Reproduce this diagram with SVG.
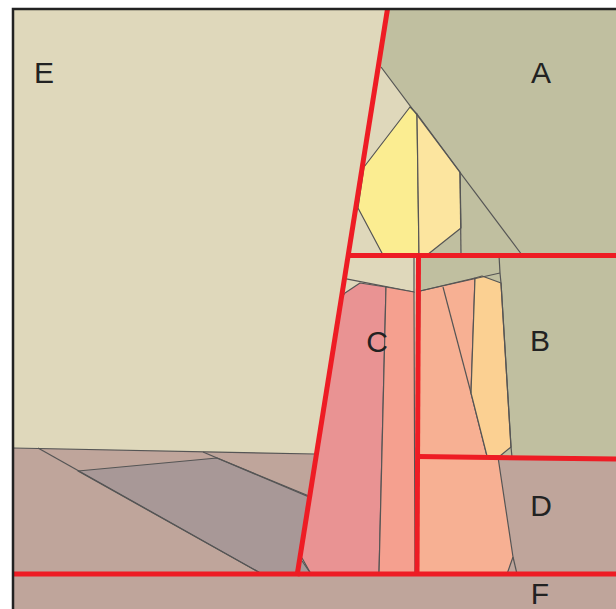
<svg xmlns="http://www.w3.org/2000/svg" width="616" height="609" viewBox="0 0 616 609">
<style>
.e{fill:#dfd8bb}.a{fill:#c0bfa0}.y1{fill:#fbed91}.y2{fill:#fce59f}.pk{fill:#e99393}.sa{fill:#f5a08f}.pe{fill:#f7b093}.lo{fill:#fbd092}.br{fill:#bfa59b}.gr{fill:#a89897}
.ed{stroke:#555;stroke-width:1.2;stroke-linejoin:round}
.ln{fill:none;stroke:#555;stroke-width:1.2}
.red{fill:none;stroke:#ee1c24;stroke-width:5;stroke-linecap:butt}
.lb{font-family:"Liberation Sans",Arial,sans-serif;font-size:30px;fill:#222;text-anchor:middle}
</style>
<rect width="616" height="609" fill="#fff"/>
<g id="E">
<rect class="e" x="13" y="9" width="603" height="600"/>
</g>
<g id="A">
<polygon class="a" points="387,9 616,9 616,255 348,255"/>
<polygon class="e" points="370,60 381,67 410,107 364,167 355,167"/>
<polygon class="e" points="345,208 358,208 383,255 345,255"/>
<polygon class="y1 ed" points="410,107 417,114 419,255 383,255 358,208 364,167"/>
<polygon class="y2 ed" points="417,114 460,172 461,228 427,255 419,255"/>
<line class="ln" x1="460" y1="172" x2="461" y2="255"/>
<line class="ln" x1="381" y1="67" x2="522" y2="255"/>
</g>
<g id="C">
<polygon class="e" points="340,255 414,255 414,292 347,279"/>
<polyline class="ln" points="345,278.6 414,292 414,255"/>
<polygon class="pk ed" points="360,283 386,287 379,574 311,574 302,558 300,558 340,300 345,293"/>
<polygon class="sa ed" points="386,287 414,292 415,574 379,574"/>
</g>
<g id="B">
<polygon class="a" points="418,255 616,255 616,458 418,456"/>
<polygon class="pe ed" points="420,291 475,278 471,393 487,456 418,456"/>
<polygon class="lo ed" points="475,278 482,276 501,283 511,447 500,456 487,456 471,393"/>
<line class="ln" x1="420" y1="291" x2="500" y2="273"/>
<line class="ln" x1="443" y1="287" x2="471" y2="393"/>
<polyline class="ln" points="499,255 500,273 501,283 511,447 512,457"/>
</g>
<g id="D">
<polygon class="br" points="418,456 616,458 616,574 418,574"/>
<polygon class="pe ed" points="418,456 498,457 513,557 507,574 418,574"/>
<line class="ln" x1="513" y1="557" x2="517" y2="574"/>
</g>
<g id="SW">
<polygon class="br" points="13,448 315,454 297,574 13,574"/>
<polygon class="gr ed" points="78,471 217,458 309,496 300,558 311,574 262,574"/>
<line class="ln" x1="13" y1="448" x2="315" y2="454"/>
<line class="ln" x1="38" y1="448" x2="262" y2="574"/>
<line class="ln" x1="203" y1="452" x2="309" y2="497"/>
</g>
<g id="F">
<rect class="br" x="13" y="574" width="603" height="35"/>
</g>
<g id="connectors">
<line class="red" x1="387.5" y1="9" x2="297" y2="576"/>
<line class="red" x1="346" y1="255.5" x2="616" y2="255.5"/>
<line class="red" x1="418.5" y1="255" x2="417" y2="574"/>
<line class="red" x1="418" y1="456.5" x2="616" y2="459"/>
<line class="red" x1="13" y1="574" x2="616" y2="574"/>
</g>
<g id="frame">
<polyline points="13,609 13,9 616,9" fill="none" stroke="#222" stroke-width="2.5"/>
</g>
<g id="labels">
<text class="lb" x="44" y="83">E</text>
<text class="lb" x="541" y="83">A</text>
<text class="lb" x="377" y="352">C</text>
<text class="lb" x="540" y="351">B</text>
<text class="lb" x="541" y="516">D</text>
<text class="lb" x="540" y="604">F</text>
</g>
</svg>
